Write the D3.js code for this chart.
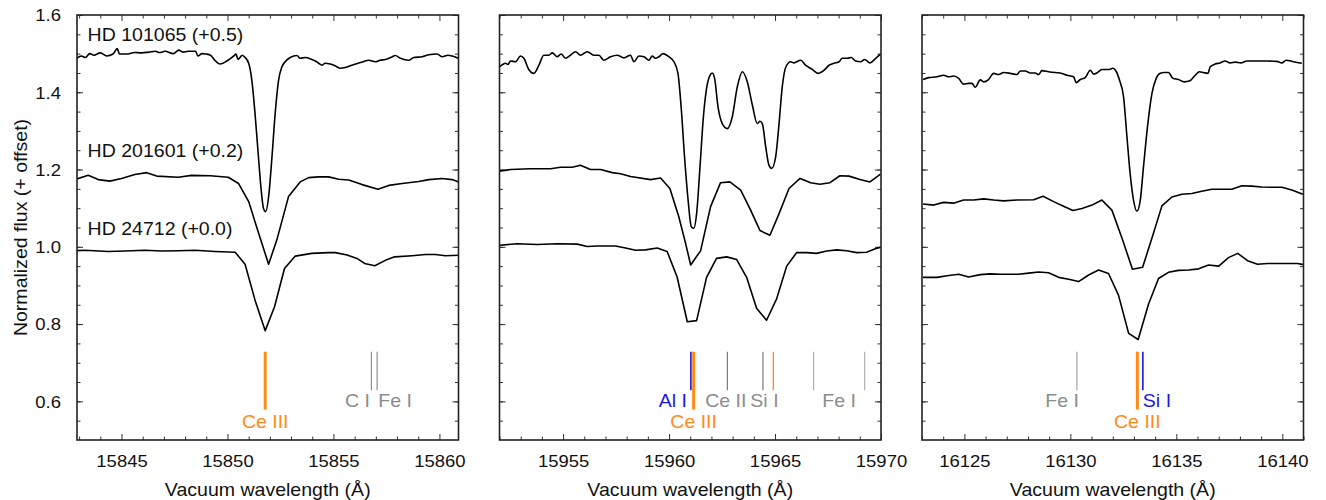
<!DOCTYPE html>
<html><head><meta charset="utf-8">
<script src="https://cdn.jsdelivr.net/npm/d3@7"></script>
<style>
body{margin:0;background:#fff}
svg{display:block}
text{font-family:"Liberation Sans",Arial,Helvetica,sans-serif}
</style>
</head><body>
<svg id="chart" width="1326" height="500"></svg>
<script>
// ---------------- DATA ----------------
const stars = ["HD 101065", "HD 201601", "HD 24712"];
const offsets = [0.5, 0.2, 0.0];
const offsetLabels = ["(+0.5)", "(+0.2)", "(+0.0)"];
const windows = [[15842.9, 15860.9], [15952, 15970], [16123, 16141]];
const xTickLabels = [[15845, 15850, 15855, 15860], [15955, 15960, 15965, 15970], [16125, 16130, 16135, 16140]];
const yTickLabels = [0.6, 0.8, 1.0, 1.2, 1.4, 1.6];

// Window 1 (Ce III 15851.8)
const w1_HD101065 = [[15842.8,0.983],[15843.1,0.994],[15843.3,0.990],[15843.5,1.000],[15843.7,0.996],[15844.0,1.002],[15844.3,0.994],[15844.6,0.999],[15844.8,1.013],[15844.9,0.999],[15845.3,0.999],[15845.6,1.003],[15845.95,1.002],[15846.3,1.004],[15846.6,1.006],[15846.8,1.003],[15847.05,1.006],[15847.45,1.000],[15847.7,1.009],[15847.9,1.004],[15848.15,1.006],[15848.5,1.006],[15848.6,0.994],[15848.8,1.000],[15849.0,0.999],[15849.2,0.996],[15849.4,0.983],[15849.65,0.973],[15849.97,0.981],[15850.3,0.994],[15850.4,0.999],[15850.5,0.985],[15850.7,0.996],[15850.8,0.992],[15851.0,0.975],[15851.15,0.931],[15851.3,0.845],[15851.46,0.733],[15851.59,0.647],[15851.7,0.599],[15851.8,0.591],[15851.94,0.629],[15852.1,0.733],[15852.25,0.845],[15852.41,0.931],[15852.57,0.966],[15852.72,0.979],[15852.96,0.990],[15853.28,0.995],[15853.43,0.988],[15853.67,0.990],[15853.98,0.985],[15854.15,0.981],[15854.3,0.975],[15854.46,0.970],[15854.6,0.975],[15854.85,0.973],[15855.1,0.968],[15855.32,0.962],[15855.56,0.964],[15855.87,0.970],[15856.19,0.976],[15856.4,0.979],[15856.66,0.983],[15856.98,0.979],[15857.2,0.983],[15857.45,0.985],[15857.7,0.990],[15857.92,0.995],[15858.16,0.988],[15858.55,0.983],[15858.79,0.990],[15859.18,0.992],[15859.5,0.997],[15859.89,0.999],[15860.13,0.992],[15860.4,0.996],[15860.6,0.994],[15860.88,0.988]];
const w1_HD201601 = [[15842.8,0.974],[15843.43,0.985],[15843.9,0.974],[15844.45,0.970],[15845.0,0.977],[15845.63,0.987],[15846.19,0.992],[15846.66,0.983],[15847.68,0.980],[15848.31,0.985],[15849.18,0.984],[15850.04,0.980],[15850.52,0.964],[15851.0,0.917],[15851.47,0.835],[15851.94,0.755],[15852.33,0.818],[15852.88,0.930],[15853.43,0.968],[15853.83,0.979],[15854.3,0.981],[15854.77,0.981],[15855.25,0.975],[15855.72,0.973],[15856.35,0.961],[15857.1,0.949],[15857.61,0.959],[15858.24,0.964],[15859.02,0.969],[15859.5,0.974],[15860.13,0.977],[15860.6,0.974],[15860.91,0.968]];
const w1_HD24712 = [[15842.8,0.990],[15843.27,0.991],[15844.37,0.988],[15845.16,0.989],[15846.1,0.991],[15846.9,0.989],[15847.68,0.990],[15848.47,0.991],[15849.41,0.988],[15850.36,0.986],[15850.83,0.955],[15851.3,0.862],[15851.78,0.783],[15852.22,0.845],[15852.69,0.944],[15853.2,0.976],[15853.98,0.983],[15854.77,0.985],[15855.09,0.985],[15855.64,0.979],[15856.11,0.970],[15856.47,0.957],[15856.95,0.951],[15857.45,0.965],[15857.89,0.974],[15858.71,0.977],[15859.34,0.980],[15859.81,0.980],[15860.28,0.977],[15860.91,0.978]];

// Window 2 (Ce III 15961.2)
const w2_HD101065 = [[15952.0,0.966],[15952.15,0.972],[15952.28,0.975],[15952.4,0.972],[15952.52,0.981],[15952.76,0.979],[15952.99,0.994],[15953.15,0.988],[15953.38,0.959],[15953.62,0.949],[15953.86,0.970],[15954.09,0.996],[15954.33,0.996],[15954.49,1.002],[15954.72,0.992],[15954.91,0.999],[15955.11,0.988],[15955.35,0.996],[15955.59,1.005],[15955.82,0.996],[15956.14,1.005],[15956.45,0.996],[15956.69,0.996],[15956.92,0.983],[15957.24,0.992],[15957.55,0.996],[15957.87,0.989],[15958.18,0.996],[15958.34,0.979],[15958.58,0.994],[15958.81,0.992],[15959.05,0.983],[15959.2,0.994],[15959.36,0.988],[15959.52,0.992],[15959.72,1.000],[15959.99,0.992],[15960.23,0.979],[15960.42,0.949],[15960.57,0.862],[15960.73,0.733],[15960.9,0.620],[15961.05,0.552],[15961.17,0.548],[15961.3,0.586],[15961.46,0.707],[15961.62,0.836],[15961.77,0.910],[15961.93,0.944],[15962.04,0.950],[15962.15,0.936],[15962.31,0.862],[15962.51,0.819],[15962.75,0.806],[15962.98,0.836],[15963.22,0.914],[15963.46,0.953],[15963.69,0.927],[15963.93,0.867],[15964.16,0.819],[15964.29,0.825],[15964.4,0.819],[15964.56,0.759],[15964.71,0.712],[15964.84,0.703],[15965.03,0.733],[15965.19,0.819],[15965.34,0.914],[15965.53,0.968],[15965.74,0.979],[15965.89,0.976],[15966.21,0.983],[15966.44,0.970],[15966.76,0.959],[15967.03,0.949],[15967.31,0.957],[15967.55,0.970],[15967.78,0.975],[15968.02,0.979],[15968.17,0.988],[15968.41,0.988],[15968.6,0.990],[15968.8,0.981],[15969.04,0.979],[15969.23,0.985],[15969.48,0.976],[15969.75,0.988],[15969.98,0.999]];
const w2_HD201601 = [[15952.0,0.996],[15952.52,1.000],[15953.46,1.002],[15954.41,1.002],[15954.88,1.006],[15955.43,1.006],[15955.82,1.011],[15956.29,1.000],[15956.77,1.000],[15957.32,0.992],[15957.71,0.989],[15958.18,0.982],[15959.13,0.974],[15959.6,0.978],[15960.04,0.951],[15960.46,0.878],[15960.78,0.809],[15961.02,0.753],[15961.49,0.790],[15961.96,0.904],[15962.43,0.966],[15962.87,0.968],[15963.38,0.947],[15963.85,0.895],[15964.29,0.842],[15964.76,0.830],[15965.19,0.886],[15965.66,0.951],[15966.18,0.977],[15966.68,0.966],[15967.12,0.962],[15967.59,0.966],[15968.06,0.984],[15968.49,0.983],[15969.01,0.974],[15969.48,0.968],[15969.98,0.988]];
const w2_HD24712 = [[15952.0,1.004],[15952.83,1.008],[15953.78,1.006],[15954.72,1.008],[15955.67,1.007],[15956.14,1.001],[15956.61,1.002],[15957.47,1.002],[15957.95,0.997],[15958.42,0.991],[15958.89,0.992],[15959.44,0.997],[15959.91,0.988],[15960.38,0.922],[15960.86,0.806],[15961.3,0.809],[15961.77,0.921],[15962.24,0.970],[15962.72,0.974],[15963.19,0.967],[15963.66,0.921],[15964.13,0.841],[15964.6,0.810],[15965.08,0.866],[15965.55,0.950],[15966.02,0.985],[15966.49,0.985],[15966.96,0.983],[15967.44,0.989],[15967.91,0.992],[15968.38,0.990],[15968.85,0.985],[15969.32,0.986],[15969.79,0.996],[15969.98,0.999]];

// Window 3 (Ce III 16133.2)
const w3_HD101065 = [[16123.05,0.933],[16123.31,0.938],[16123.71,0.940],[16124.02,0.944],[16124.26,0.940],[16124.49,0.942],[16124.73,0.936],[16124.96,0.921],[16125.2,0.923],[16125.36,0.923],[16125.51,0.913],[16125.75,0.932],[16125.91,0.927],[16126.14,0.933],[16126.38,0.949],[16126.62,0.946],[16126.85,0.951],[16127.17,0.949],[16127.48,0.946],[16127.64,0.955],[16127.87,0.955],[16128.11,0.950],[16128.34,0.950],[16128.5,0.946],[16128.66,0.956],[16128.97,0.953],[16129.29,0.951],[16129.52,0.950],[16129.84,0.944],[16130.15,0.940],[16130.28,0.925],[16130.47,0.933],[16130.7,0.938],[16130.94,0.957],[16131.1,0.947],[16131.25,0.950],[16131.49,0.959],[16131.8,0.959],[16132.01,0.962],[16132.15,0.955],[16132.32,0.931],[16132.51,0.888],[16132.67,0.785],[16132.82,0.690],[16132.98,0.621],[16133.14,0.592],[16133.3,0.621],[16133.45,0.707],[16133.64,0.811],[16133.85,0.897],[16134.05,0.936],[16134.24,0.949],[16134.43,0.951],[16134.63,0.951],[16134.84,0.936],[16135.1,0.933],[16135.37,0.927],[16135.62,0.929],[16135.89,0.944],[16136.09,0.953],[16136.28,0.951],[16136.49,0.949],[16136.6,0.966],[16136.83,0.973],[16137.07,0.976],[16137.3,0.981],[16137.54,0.976],[16137.78,0.978],[16138.04,0.976],[16138.33,0.981],[16138.8,0.981],[16139.27,0.981],[16139.74,0.980],[16139.98,0.976],[16140.18,0.983],[16140.53,0.979],[16140.92,0.975]];
const w3_HD201601 = [[16123.05,0.911],[16123.55,0.908],[16124.02,0.915],[16124.49,0.913],[16124.96,0.921],[16125.44,0.921],[16125.91,0.924],[16126.38,0.921],[16126.85,0.919],[16127.48,0.921],[16128.27,0.922],[16128.71,0.931],[16129.21,0.917],[16129.68,0.905],[16130.12,0.894],[16130.55,0.899],[16131.02,0.908],[16131.49,0.921],[16131.96,0.895],[16132.45,0.820],[16132.93,0.742],[16133.41,0.747],[16133.88,0.828],[16134.32,0.906],[16134.79,0.929],[16135.26,0.936],[16135.73,0.938],[16136.2,0.944],[16136.68,0.949],[16137.15,0.949],[16137.62,0.949],[16138.09,0.958],[16138.56,0.957],[16139.03,0.955],[16139.51,0.954],[16139.98,0.954],[16140.45,0.947],[16140.97,0.936]];
const w3_HD24712 = [[16123.05,0.921],[16123.71,0.921],[16124.18,0.925],[16124.73,0.929],[16125.2,0.922],[16125.75,0.928],[16126.22,0.930],[16126.7,0.929],[16127.56,0.929],[16128.03,0.932],[16128.5,0.935],[16128.97,0.933],[16129.45,0.921],[16129.92,0.916],[16130.39,0.910],[16130.86,0.927],[16131.33,0.940],[16131.8,0.931],[16132.27,0.875],[16132.75,0.776],[16133.2,0.760],[16133.69,0.852],[16134.16,0.918],[16134.63,0.934],[16135.1,0.939],[16135.58,0.940],[16136.05,0.943],[16136.52,0.953],[16137.0,0.950],[16137.46,0.972],[16137.9,0.983],[16138.36,0.964],[16138.83,0.955],[16139.3,0.957],[16139.77,0.957],[16140.25,0.957],[16140.72,0.957],[16141.0,0.954]];

// Line identifications (wavelength, ion)
const w1_lines = [[15851.78,"Ce III"],[15856.79,"C I"],[15857.06,"Fe I"]];
const w2_lines = [[15961.03,"Al I"],[15961.16,"Ce III"],[15962.75,"Ce II"],[15964.43,"Si I"],[15964.92,"Ce III"],[15966.82,"Fe I"],[15969.23,"Fe I"]];
const w3_lines = [[16130.31,"Fe I"],[16133.16,"Ce III"],[16133.42,"Si I"]];

// ---------------- LAYOUT / STYLE ----------------
const plotTop = 15, plotBottom = 440;
const panelX = [77, 499.5, 922];
const panelW = 381.5;
const FONT_BIG = 18.6, SX_BIG = 1.05;
const FONT_TICK = 16.5, SX_TICK = 1.12;
const ORANGE = "#ff8a17", BLUE = "#1818dc", GREY = "#8c8c8c";

const spectra = [[w1_HD101065, w1_HD201601, w1_HD24712],[w2_HD101065, w2_HD201601, w2_HD24712],[w3_HD101065, w3_HD201601, w3_HD24712]];
const idLines = [w1_lines, w2_lines, w3_lines];

const markStyles = [
  [{c:ORANGE,w:3,len:"long"},{c:"#888",w:1.1,len:"short"},{c:"#888",w:1.1,len:"short"}],
  [{c:BLUE,w:1.6,len:"short"},{c:ORANGE,w:3,len:"long"},{c:"#6e6e6e",w:1.1,len:"short"},{c:"#6e6e6e",w:1.1,len:"short"},{c:ORANGE,w:1.3,len:"short"},{c:"#aaa",w:1.1,len:"short"},{c:"#aaa",w:1.1,len:"short"}],
  [{c:"#999",w:1.1,len:"short"},{c:ORANGE,w:3,len:"long"},{c:BLUE,w:1.6,len:"short"}]
];
// label placements: [panel, text, wavelength, dx(px), row, anchor, color]
const idLabels = [
  [0,"Ce III",15851.78,0,2,"middle",ORANGE],
  [0,"C I",15856.79,-1.5,1,"end",GREY],
  [0,"Fe I",15857.06,1.2,1,"start",GREY],
  [1,"Al I",15961.03,-4,1,"end",BLUE],
  [1,"Ce III",15961.16,0,2,"middle",ORANGE],
  [1,"Ce II",15962.75,-1.5,1,"middle",GREY],
  [1,"Si I",15964.43,1.5,1,"middle",GREY],
  [1,"Fe I",(15966.82+15969.23)/2,0,1,"middle",GREY],
  [2,"Fe I",16130.31,2,1,"end",GREY],
  [2,"Ce III",16133.16,0,2,"middle",ORANGE],
  [2,"Si I",16133.42,0,1,"start",BLUE]
];

const svg = d3.select("#chart");
const defs = svg.append("defs");
const y = d3.scaleLinear().domain([0.5, 1.6]).range([plotBottom, plotTop]);
const yMinor = d3.range(11, 32).map(k => k / 20);

function styleAxis(sel) {
  sel.select(".domain").remove();
  sel.selectAll(".tick line").attr("stroke", "#333").attr("stroke-width", 1);
}

windows.forEach((dom, i) => {
  const x0 = panelX[i];
  const x = d3.scaleLinear().domain(dom).range([x0, x0 + panelW]);
  const g = svg.append("g");
  const majors = xTickLabels[i];
  const minors = d3.range(Math.ceil(dom[0]), dom[1] + 1e-9, 1).filter(v => !majors.includes(v));

  defs.append("clipPath").attr("id", "clip" + i)
    .append("rect").attr("x", x0).attr("y", plotTop).attr("width", panelW).attr("height", plotBottom - plotTop);

  g.append("g").attr("transform", `translate(0,${plotBottom})`)
    .call(d3.axisBottom(x).tickValues(minors).tickSizeInner(-3.5).tickSizeOuter(0).tickFormat("")).call(styleAxis);
  g.append("g").attr("transform", `translate(0,${plotTop})`)
    .call(d3.axisTop(x).tickValues(minors).tickSizeInner(-3.5).tickSizeOuter(0).tickFormat("")).call(styleAxis);
  g.append("g").attr("transform", `translate(${x0},0)`)
    .call(d3.axisLeft(y).tickValues(yMinor).tickSizeInner(-3.5).tickSizeOuter(0).tickFormat("")).call(styleAxis);
  g.append("g").attr("transform", `translate(${x0 + panelW},0)`)
    .call(d3.axisRight(y).tickValues(yMinor).tickSizeInner(-3.5).tickSizeOuter(0).tickFormat("")).call(styleAxis);

  const bAx = g.append("g").attr("transform", `translate(0,${plotBottom})`)
    .call(d3.axisBottom(x).tickValues(majors).tickSizeInner(-6).tickSizeOuter(0).tickFormat(d3.format("d"))).call(styleAxis);
  bAx.selectAll(".tick text")
    .attr("y", null).attr("dy", null)
    .attr("transform", `translate(0,26.7) scale(${SX_TICK},1)`)
    .attr("font-size", FONT_TICK).attr("fill", "#111")
    .style("font-family", '"Liberation Sans",Arial,sans-serif');
  g.append("g").attr("transform", `translate(0,${plotTop})`)
    .call(d3.axisTop(x).tickValues(majors).tickSizeInner(-6).tickSizeOuter(0).tickFormat("")).call(styleAxis);
  const lAx = g.append("g").attr("transform", `translate(${x0},0)`)
    .call(d3.axisLeft(y).tickValues(yTickLabels).tickSizeInner(-6).tickSizeOuter(0)
      .tickFormat(i === 0 ? d3.format(".1f") : "")).call(styleAxis);
  lAx.selectAll(".tick text")
    .attr("x", null).attr("dy", null)
    .attr("transform", `translate(${61 - x0},5.9) scale(${SX_TICK},1)`)
    .attr("font-size", FONT_TICK).attr("fill", "#111")
    .style("font-family", '"Liberation Sans",Arial,sans-serif');
  g.append("g").attr("transform", `translate(${x0 + panelW},0)`)
    .call(d3.axisRight(y).tickValues(yTickLabels).tickSizeInner(-6).tickSizeOuter(0).tickFormat("")).call(styleAxis);

  idLines[i].forEach((d, k) => {
    const s = markStyles[i][k];
    g.append("line")
      .attr("x1", x(d[0])).attr("x2", x(d[0]))
      .attr("y1", y(0.7285)).attr("y2", y(s.len === "long" ? 0.579 : 0.629))
      .attr("stroke", s.c).attr("stroke-width", s.w);
  });

  spectra[i].forEach((arr, k) => {
    g.append("path").datum(arr)
      .attr("clip-path", `url(#clip${i})`)
      .attr("fill", "none").attr("stroke", "#000").attr("stroke-width", 1.6)
      .attr("stroke-linejoin", "round")
      .attr("d", d3.line().x(d => x(d[0])).y(d => y(d[1] + offsets[k]))
        .curve(k === 0 ? d3.curveMonotoneX : d3.curveLinear));
  });

  g.append("rect").attr("x", x0).attr("y", plotTop).attr("width", panelW).attr("height", plotBottom - plotTop)
    .attr("fill", "none").attr("stroke", "#222").attr("stroke-width", 1.6);

  g.append("text")
    .attr("transform", `translate(${x0 + panelW / 2},496) scale(${SX_BIG},1)`)
    .attr("text-anchor", "middle").attr("font-size", FONT_BIG).attr("fill", "#111")
    .text("Vacuum wavelength (Å)");

  idLabels.filter(l => l[0] === i).forEach(l => {
    const by = l[4] === 1 ? 407.3 : 428;
    g.append("text")
      .attr("transform", `translate(${x(l[2]) + l[3]},${by}) scale(${SX_BIG},1)`)
      .attr("text-anchor", l[5]).attr("font-size", FONT_BIG).attr("fill", l[6])
      .text(l[1]);
  });

  if (i === 0) {
    const labY = [1.533, 1.232, 1.031];
    stars.forEach((s, k) => {
      svg.append("text")
        .attr("transform", `translate(${x(15843.4)},${y(labY[k])}) scale(${SX_BIG},1)`)
        .attr("font-size", FONT_BIG).attr("fill", "#111")
        .text(s + " " + offsetLabels[k]);
    });
  }
});

svg.append("text")
  .attr("transform", `translate(26.5,${(plotTop + plotBottom) / 2}) rotate(-90) scale(${SX_BIG},1)`)
  .attr("text-anchor", "middle").attr("font-size", FONT_BIG).attr("fill", "#111")
  .text("Normalized flux (+ offset)");
</script>
</body></html>
